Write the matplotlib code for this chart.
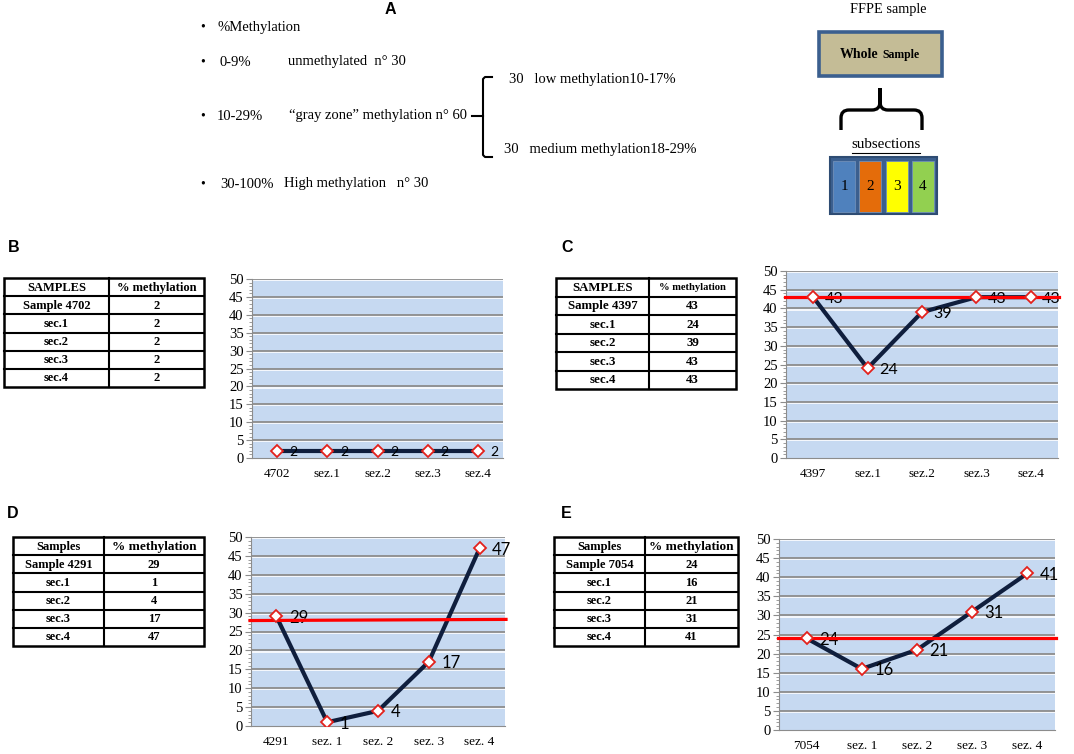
import numpy as np
import matplotlib.pyplot as plt
import matplotlib.patheffects as pe
from matplotlib.patches import Rectangle, PathPatch
from matplotlib.path import Path
from matplotlib.ticker import MultipleLocator

W, H = 1074, 754
SERIF = 'Liberation Serif'
SANS = 'Liberation Sans'

# panel B
cats_b = ['4702', 'sez.1', 'sez.2', 'sez.3', 'sez.4']
vals_b = [2, 2, 2, 2, 2]
head_b = ['SAMPLES', '% methylation']
rows_b = ['Sample 4702', 'sec.1', 'sec.2', 'sec.3', 'sec.4']

# panel C
cats_c = ['4397', 'sez.1', 'sez.2', 'sez.3', 'sez.4']
vals_c = [43, 24, 39, 43, 43]
head_c = ['SAMPLES', '% methylation']
rows_c = ['Sample 4397', 'sec.1', 'sec.2', 'sec.3', 'sec.4']
ref_c = [43, 43]

# panel D
cats_d = ['4291', 'sez. 1', 'sez. 2', 'sez. 3', 'sez. 4']
vals_d = [29, 1, 4, 17, 47]
head_d = ['Samples', '% methylation']
rows_d = ['Sample 4291', 'sec.1', 'sec.2', 'sec.3', 'sec.4']
ref_d = [27.9, 28.2]

# panel E
cats_e = ['7054', 'sez. 1', 'sez. 2', 'sez. 3', 'sez. 4']
vals_e = [24, 16, 21, 31, 41]
head_e = ['Samples', '% methylation']
rows_e = ['Sample 7054', 'sec.1', 'sec.2', 'sec.3', 'sec.4']
ref_e = [24, 24]

# panel A text
groups = ['%Methylation', '0-9%', '10-29%', '30-100%']
group_desc = ['', 'unmethylated  n\u00b0 30', '\u201cgray zone\u201d methylation n\u00b0 60',
              'High methylation   n\u00b0 30']
gray_split = ['30   low methylation10-17%', '30   medium methylation18-29%']
subsections = ['1', '2', '3', '4']
sub_colors = ['#4f81bd', '#e46c0a', '#ffff00', '#92d050']

fig = plt.figure(figsize=(W / 100, H / 100), dpi=100)

# overlay in pixel coordinates
ov = fig.add_axes([0, 0, 1, 1])
ov.set_xlim(0, W)
ov.set_ylim(H, 0)
ov.axis('off')


def px(x0, x1, y0, y1):
    return [x0 / W, 1 - y1 / H, (x1 - x0) / W, (y1 - y0) / H]


# ---- A: bullet list
A_y = [27, 62, 116, 184]
A_x = [217, 219, 217, 220]
A_dx = [0, 288, 289, 284]
ov.text(390, 9, 'A', family=SANS, weight='bold', fontsize=11.5, ha='center', va='center')
for g, d, y, x, xd in zip(groups, group_desc, A_y, A_x, A_dx):
    ov.text(203, y, '\u2022', family=SERIF, fontsize=10, ha='center', va='center')
    ov.text(x, y, g, family=SERIF, fontsize=10.5, va='center')
    if d:
        ov.text(xd, y, d, family=SERIF, fontsize=10.5, va='center')
ov.plot([492, 485, 483, 483, 485, 492], [77, 77, 79, 155, 157, 157], color='black', lw=1.5)
ov.plot([472, 483], [116, 116], color='black', lw=1.5)
ov.text(509, 79, gray_split[0], family=SERIF, fontsize=10.5, va='center')
ov.text(504, 150, gray_split[1], family=SERIF, fontsize=10.5, va='center')

# ---- FFPE diagram
ov.text(888, 9, 'FFPE sample', family=SERIF, fontsize=10.3, ha='center', va='center')
ov.add_patch(Rectangle((819, 32), 123, 44, fc='#c4bc96', ec='#3b5f8f', lw=2.6))
ov.text(878, 55, 'Whole', family=SERIF, weight='bold', fontsize=10, ha='right', va='center')
ov.text(882, 55, 'Sample', family=SERIF, weight='bold', fontsize=8.5, ha='left', va='center')
brace = Path([(841, 130), (841, 118), (841, 110), (849, 110), (872, 110), (880, 110), (880, 102),
              (880, 88), (880, 102), (880, 110), (888, 110), (914, 110), (922, 110), (922, 118),
              (922, 130)],
             [Path.MOVETO, Path.LINETO, Path.CURVE3, Path.CURVE3, Path.LINETO, Path.CURVE3, Path.CURVE3,
              Path.LINETO, Path.LINETO, Path.CURVE3, Path.CURVE3, Path.LINETO, Path.CURVE3, Path.CURVE3,
              Path.LINETO])
ov.add_patch(PathPatch(brace, fill=False, lw=2.4, ec='black', capstyle='butt'))
ov.text(886, 145, 'subsections', family=SERIF, fontsize=10.8, ha='center', va='center')
ov.plot([852, 920], [153, 153], color='black', lw=0.8)
ov.add_patch(Rectangle((830, 157), 107, 57, fc='#3b5f8f', ec='#2e4c73', lw=1.5))
cell_x = [833, 859, 886, 912]
for cx, lab, col in zip(cell_x, subsections, sub_colors):
    ov.add_patch(Rectangle((cx, 161), 22, 51, fc=col, ec='#6f8fb8', lw=0.6))
    ov.text(cx + 11, 187, lab, family=SERIF, fontsize=11, ha='center', va='center')

# ---- panel letters
for lab, x, y in [('B', 8, 248), ('C', 561, 248), ('D', 7, 513), ('E', 561, 513)]:
    ov.text(x, y, lab, family=SANS, weight='bold', fontsize=11.5, va='center')


def table(x0, xd, x1, y0, y1, head, rows, vals, fs, fs_head):
    ys = np.linspace(y0, y1, len(rows) + 2)
    ov.add_patch(Rectangle((x0, y0), x1 - x0, y1 - y0, fill=False, lw=1.8, ec='black'))
    for y in ys[1:-1]:
        ov.plot([x0, x1], [y, y], color='black', lw=1.5)
    ov.plot([xd, xd], [y0, y1], color='black', lw=1.5)
    cells = [head] + [[r, str(v)] for r, v in zip(rows, vals)]
    for i, (a, b) in enumerate(cells):
        yc = (ys[i] + ys[i + 1]) / 2 + 0.5
        f2 = fs_head if i == 0 else fs
        ov.text((x0 + xd) / 2, yc, a, family=SERIF, weight='bold', fontsize=fs, ha='center', va='center')
        ov.text((xd + x1) / 2, yc, b, family=SERIF, weight='bold', fontsize=f2, ha='center', va='center')


table(4, 109, 204, 278, 387, head_b, rows_b, vals_b, 9, 9)
table(556, 649, 736, 278, 389, head_c, rows_c, vals_c, 9.3, 7.6)
table(13, 104, 204, 537, 646, head_d, rows_d, vals_d, 9, 9.5)
table(554, 645, 738, 537, 646, head_e, rows_e, vals_e, 9, 9.5)


def chart(box, cats, vals, ref, fs_tick, fs_lab, dx):
    ax = fig.add_axes(px(*box))
    ax.set_facecolor('#c6d9f1')
    x = np.arange(len(cats))
    ax.set_xlim(-0.5, len(cats) - 0.5)
    ax.set_ylim(0, 50)
    for g in range(5, 51, 5):
        ax.axhline(g, color='#8c8c8c', lw=1.3, zorder=1,
                   path_effects=[pe.SimpleLineShadow(offset=(0, -0.8), shadow_color='white', alpha=0.9),
                                 pe.Normal()])
    ax.plot(x, vals, color='#0f1e3d', lw=3, zorder=3, solid_joinstyle='round')
    if ref:
        ax.plot([-0.52, len(cats) - 0.48], ref, color='#ff0000', lw=2.3, zorder=5, clip_on=False)
    ax.plot(x, vals, ls='none', marker='D', ms=6, mfc='white', mec='#e3211c', mew=1.3, zorder=6)
    for xi, v in zip(x, vals):
        ax.annotate(str(v), (xi, v), xytext=(dx, -1), textcoords='offset points', ha='left',
                    va='center', fontsize=fs_lab, family='Lato', zorder=4)
    ax.set_xticks(x)
    ax.set_xticklabels(cats, family=SERIF, fontsize=fs_tick)
    ax.set_yticks(range(0, 51, 5))
    ax.set_yticklabels([str(t) for t in range(0, 51, 5)], family=SERIF, fontsize=fs_tick + 1)
    ax.yaxis.set_minor_locator(MultipleLocator(1))
    ax.tick_params(axis='x', length=0, pad=7)
    ax.tick_params(axis='y', which='major', length=4, color='#8c8c8c', pad=2)
    ax.tick_params(axis='y', which='minor', length=2.5, color='#8c8c8c')
    for s in ['top', 'right']:
        ax.spines[s].set_visible(False)
    for s in ['left', 'bottom']:
        ax.spines[s].set_color('#8c8c8c')
    return ax


chart((252, 503, 279, 458), cats_b, vals_b, None, 9.5, 10, 9)
chart((786, 1058, 271, 458), cats_c, vals_c, ref_c, 9.5, 11.5, 8)
chart((251, 505, 537, 726), cats_d, vals_d, ref_d, 9.5, 12, 9)
chart((779, 1055, 539, 730), cats_e, vals_e, ref_e, 9.5, 12, 9)

fig.savefig('out.png', dpi=100)
